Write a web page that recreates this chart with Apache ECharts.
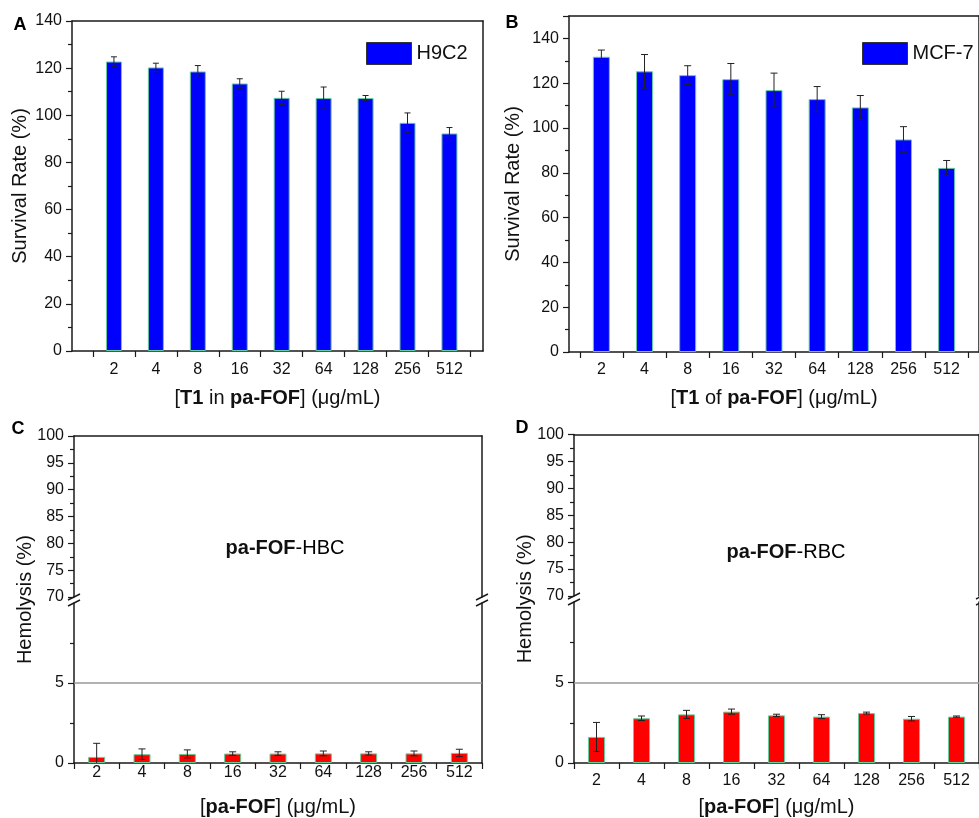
<!DOCTYPE html>
<html>
<head>
<meta charset="utf-8">
<script src="https://cdn.jsdelivr.net/npm/echarts@6/dist/echarts.min.js"></script>
<style>
html, body { margin: 0; padding: 0; background: #fff; overflow: hidden; }
#chart { width: 979px; height: 818px; }
</style>
</head>
<body>
<div id="chart"></div>
<script>
// concentrations on the x axis (µg/mL)
const concentrations = ['2', '4', '8', '16', '32', '64', '128', '256', '512'];

// A: H9C2 survival rate (%)
const h9c2Rate = [122.8, 120.3, 118.6, 113.5, 107.4, 107.3, 107.3, 96.8, 92.3];
const h9c2Err = [2.0, 1.8, 2.5, 2.0, 2.8, 4.7, 1.1, 4.2, 2.5];

// B: MCF-7 survival rate (%)
const mcf7Rate = [131.8, 125.3, 123.6, 121.8, 116.9, 112.9, 109.2, 94.9, 82.2];
const mcf7Err = [3.0, 7.5, 4.2, 7.0, 7.6, 5.6, 5.3, 5.7, 3.3];

// C: hemolysis of HBC (%)
const hbcHemolysis = [0.38, 0.55, 0.57, 0.59, 0.59, 0.60, 0.60, 0.60, 0.63];
const hbcErr = [0.85, 0.33, 0.25, 0.11, 0.11, 0.15, 0.10, 0.15, 0.23];

// D: hemolysis of RBC (%)
const rbcHemolysis = [1.62, 2.78, 3.02, 3.19, 2.96, 2.88, 3.10, 2.75, 2.88];
const rbcErr = [0.90, 0.14, 0.25, 0.16, 0.07, 0.12, 0.06, 0.14, 0.04];

// tick labels
const survivalTicks = [0, 20, 40, 60, 80, 100, 120, 140];
const hemolysisUpperTicks = [70, 75, 80, 85, 90, 95, 100];
const hemolysisLowerTicks = [0, 5];
const hemolysisLimit = 5;

const FONT = "'Liberation Sans', Arial, Helvetica, sans-serif";
const INK = '#1a1a1a';
const TXT = '#111';
const BAR_EDGE = '#66cc99';

// panel layouts
const GRID_A = {left: 72, top: 21, width: 411, height: 330};
const GRID_B = {left: 569, top: 16, width: 421.8, height: 336};
const GRID_C_UP = {left: 74, top: 436, width: 408, height: 161};
const GRID_C_LO = {left: 74, top: 603, width: 408, height: 160.3};
const GRID_D_UP = {left: 574, top: 434.5, width: 408, height: 161.5};
const GRID_D_LO = {left: 574, top: 602, width: 408, height: 161.3};

const catPos = concentrations.map((c, i) => i);
const catEdges = concentrations.map((c, i) => i - 0.5).concat([concentrations.length - 0.5]);

function spanGrid(up, lo) {
    return {left: up.left, top: up.top, width: up.width, height: lo.top + lo.height - up.top};
}

function catAxis(grid, min, max, margin, name, nameGap) {
    return {
        type: 'value', gridIndex: grid, position: 'bottom', min: min, max: max,
        axisLine: {show: true, onZero: false, lineStyle: {color: INK, width: 1.5}},
        axisTick: {show: true, length: 6, customValues: catEdges, lineStyle: {color: INK, width: 1.2}},
        axisLabel: {
            customValues: catPos, margin: margin, fontSize: 16, color: TXT, fontFamily: FONT,
            formatter: v => concentrations[Math.round(v)] || ''
        },
        splitLine: {show: false},
        name: name, nameLocation: 'middle', nameGap: nameGap,
        nameTextStyle: {
            fontSize: 20, color: TXT, fontFamily: FONT,
            rich: {b: {fontSize: 20, fontWeight: 'bold', color: TXT, fontFamily: FONT}}
        }
    };
}

function lineAxis(grid, position) {
    return {
        type: 'value', gridIndex: grid, position: position, min: 0, max: 1,
        axisLine: {show: true, onZero: false, lineStyle: {color: INK, width: 1.5}},
        axisTick: {show: false}, axisLabel: {show: false}, splitLine: {show: false}
    };
}

function valAxis(grid, min, max, interval, labels, extra) {
    return Object.assign({
        type: 'value', gridIndex: grid, position: 'left', min: min, max: max, interval: interval,
        axisLine: {show: true, onZero: false, lineStyle: {color: INK, width: 1.5}},
        axisTick: {show: true, length: 6, lineStyle: {color: INK, width: 1.2}},
        minorTick: {show: true, splitNumber: 2, length: 4, lineStyle: {color: INK, width: 1.2}},
        axisLabel: {customValues: labels, margin: 10, fontSize: 16, color: TXT, fontFamily: FONT},
        splitLine: {show: false}, minorSplitLine: {show: false},
        nameLocation: 'middle',
        nameTextStyle: {fontSize: 20, color: TXT, fontFamily: FONT}
    }, extra || {});
}

function nameAxis(grid, name) {
    return {
        type: 'value', gridIndex: grid, position: 'left', min: 0, max: 1,
        axisLine: {show: false}, axisTick: {show: false}, axisLabel: {show: false}, splitLine: {show: false},
        name: name, nameLocation: 'middle', nameGap: 39,
        nameTextStyle: {fontSize: 20, color: TXT, fontFamily: FONT}
    };
}

function barSeries(name, xi, yi, values, color, width) {
    return {
        type: 'bar', name: name, xAxisIndex: xi, yAxisIndex: yi,
        data: values.map((v, i) => [i, v]),
        barWidth: width,
        itemStyle: {color: color, borderColor: BAR_EDGE, borderWidth: 1},
        emphasis: {disabled: true},
        animation: false
    };
}

function errorSeries(xi, yi, means, errs, cap) {
    return {
        type: 'custom', xAxisIndex: xi, yAxisIndex: yi, z: 5, silent: true, animation: false,
        data: means.map((m, i) => [i, m, errs[i]]),
        renderItem(params, api) {
            const x = api.value(0), m = api.value(1), e = api.value(2);
            const low = m - e;
            const hi = api.coord([x, m + e]);
            const lo = api.coord([x, Math.max(low, 0)]);
            const style = {stroke: '#222', lineWidth: 1};
            const kids = [
                {type: 'line', shape: {x1: hi[0], y1: hi[1], x2: lo[0], y2: lo[1]}, style: style},
                {type: 'line', shape: {x1: hi[0] - cap, y1: hi[1], x2: hi[0] + cap, y2: hi[1]}, style: style}
            ];
            if (low > 0) {
                kids.push({type: 'line', shape: {x1: lo[0] - cap, y1: lo[1], x2: lo[0] + cap, y2: lo[1]}, style: style});
            }
            return {type: 'group', children: kids};
        }
    };
}

function breakMarks(x, up, lo) {
    const yA = up.top + up.height, yB = lo.top;
    return [yA, yB].map(y => ({
        type: 'line', silent: true, z: 10,
        shape: {x1: x - 6, y1: y + 3, x2: x + 6, y2: y - 3},
        style: {stroke: INK, lineWidth: 1.5}
    }));
}

function label(text, x, y, size, bold) {
    return {
        type: 'text', silent: true, x: x, y: y,
        style: {
            text: text, fontSize: size, fontWeight: bold ? 'bold' : 'normal', fontFamily: FONT,
            fill: '#000', align: 'center', verticalAlign: 'middle',
            rich: {b: {fontSize: size, fontWeight: 'bold', fontFamily: FONT, fill: TXT}}
        }
    };
}

const limitLine = {
    silent: true, symbol: 'none', label: {show: false}, animation: false,
    lineStyle: {color: '#999', width: 1.5, type: 'solid'},
    data: [{yAxis: hemolysisLimit}]
};

const hbcBars = barSeries('pa-FOF-HBC', 5, 6, hbcHemolysis, '#ff0000', 17);
hbcBars.markLine = limitLine;
const rbcBars = barSeries('pa-FOF-RBC', 8, 11, rbcHemolysis, '#ff0000', 17);
rbcBars.markLine = limitLine;

const chart = echarts.init(document.getElementById('chart'));
chart.setOption({
    animation: false,
    backgroundColor: '#fff',
    textStyle: {fontFamily: FONT},
    grid: [
        GRID_A, GRID_B,
        GRID_C_UP, GRID_C_LO, spanGrid(GRID_C_UP, GRID_C_LO),
        GRID_D_UP, GRID_D_LO, spanGrid(GRID_D_UP, GRID_D_LO)
    ],
    xAxis: [
        catAxis(0, -1, 8.8, 11, '[{b|T1} in {b|pa-FOF}] (μg/mL)', 37),
        lineAxis(0, 'top'),
        catAxis(1, -0.75, 8.75, 10, '[{b|T1} of {b|pa-FOF}] (μg/mL)', 36),
        lineAxis(1, 'top'),
        lineAxis(2, 'top'),
        catAxis(3, -0.5, 8.5, 2, '[{b|pa-FOF}] (μg/mL)', 34),
        Object.assign(lineAxis(4, 'bottom'), {show: false}),
        lineAxis(5, 'top'),
        catAxis(6, -0.5, 8.5, 10, '[{b|pa-FOF}] (μg/mL)', 34),
        Object.assign(lineAxis(7, 'bottom'), {show: false})
    ],
    yAxis: [
        valAxis(0, 0, 140, 20, survivalTicks, {name: 'Survival Rate (%)', nameGap: 42}),
        lineAxis(0, 'right'),
        valAxis(1, 0, 150, 20, survivalTicks, {name: 'Survival Rate (%)', nameGap: 46}),
        lineAxis(1, 'right'),
        valAxis(2, 70, 100, 5, hemolysisUpperTicks),
        lineAxis(2, 'right'),
        valAxis(3, 0, 10, 5, hemolysisLowerTicks, {
            axisTick: {show: true, length: 6, customValues: hemolysisLowerTicks, lineStyle: {color: INK, width: 1.2}}
        }),
        lineAxis(3, 'right'),
        nameAxis(4, 'Hemolysis (%)'),
        valAxis(5, 70, 100, 5, hemolysisUpperTicks),
        lineAxis(5, 'right'),
        valAxis(6, 0, 10, 5, hemolysisLowerTicks, {
            axisTick: {show: true, length: 6, customValues: hemolysisLowerTicks, lineStyle: {color: INK, width: 1.2}}
        }),
        lineAxis(6, 'right'),
        nameAxis(7, 'Hemolysis (%)')
    ],
    legend: [
        {
            data: ['H9C2'], left: 366, top: 42, padding: 0, itemWidth: 45, itemHeight: 22, icon: 'rect', selectedMode: false,
            itemStyle: {borderColor: '#333', borderWidth: 1},
            textStyle: {fontSize: 20, color: TXT, fontFamily: FONT}
        },
        {
            data: ['MCF-7'], left: 862, top: 42, padding: 0, itemWidth: 45, itemHeight: 22, icon: 'rect', selectedMode: false,
            itemStyle: {borderColor: '#333', borderWidth: 1},
            textStyle: {fontSize: 20, color: TXT, fontFamily: FONT}
        }
    ],
    graphic: [
        label('A', 20, 25, 18, true),
        label('B', 512, 23, 18, true),
        label('C', 18, 429, 18, true),
        label('D', 522, 428, 18, true),
        label('{b|pa-FOF}-HBC', 285, 548, 20, false),
        label('{b|pa-FOF}-RBC', 786, 552, 20, false),
        ...breakMarks(GRID_C_UP.left, GRID_C_UP, GRID_C_LO),
        ...breakMarks(GRID_C_UP.left + GRID_C_UP.width, GRID_C_UP, GRID_C_LO),
        ...breakMarks(GRID_D_UP.left, GRID_D_UP, GRID_D_LO),
        ...breakMarks(GRID_D_UP.left + GRID_D_UP.width, GRID_D_UP, GRID_D_LO)
    ],
    series: [
        barSeries('H9C2', 0, 0, h9c2Rate, '#0000ff', 16),
        errorSeries(0, 0, h9c2Rate, h9c2Err, 3),
        barSeries('MCF-7', 2, 2, mcf7Rate, '#0000ff', 17),
        errorSeries(2, 2, mcf7Rate, mcf7Err, 3.5),
        hbcBars,
        errorSeries(5, 6, hbcHemolysis, hbcErr, 3.5),
        rbcBars,
        errorSeries(8, 11, rbcHemolysis, rbcErr, 3.5)
    ]
});
</script>
</body>
</html>
